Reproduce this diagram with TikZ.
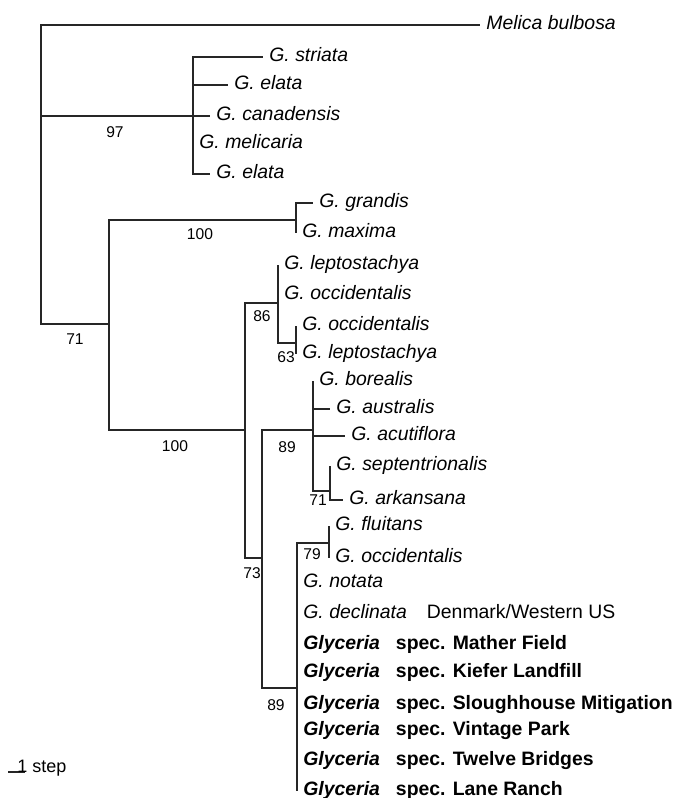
\documentclass[tikz,border=0pt]{standalone}
\usepackage{fontspec}
\setmainfont{Liberation Sans}
\usepackage{tikz}

\begin{document}
\begin{tikzpicture}[x=0.5pt,y=-0.5pt,
    branch/.style={line width=0.6pt,black!85},
    taxon/.style={anchor=west,inner xsep=3pt,inner ysep=0pt,text height=7pt,text depth=3pt,
        font=\fontsize{9.7pt}{11pt}\selectfont\itshape},
    boot/.style={inner sep=0pt,font=\fontsize{7.8pt}{9pt}\selectfont}]
    \useasboundingbox (0,0) rectangle (677,798);

    % Internal nodes of the tree
    \coordinate (root) at (41,116);
    \coordinate (n97) at (193,116);
    \coordinate (n71) at (109,324);
    \coordinate (n100a) at (296,220);
    \coordinate (n100b) at (245,430);
    \coordinate (n86) at (278,303);
    \coordinate (n63) at (296,343);
    \coordinate (n73) at (262,558);
    \coordinate (n89a) at (313,430);
    \coordinate (n71b) at (330,491);
    \coordinate (n89b) at (297,688);
    \coordinate (n79) at (329,543);

    % Taxa
    \node[taxon] (melica) at (480,25) {Melica bulbosa};
    \node[taxon] (striata) at (263,57) {G. striata};
    \node[taxon] (elataA) at (228,85) {G. elata};
    \node[taxon] (canadensis) at (210,116) {G. canadensis};
    \node[taxon] (melicaria) at (193,144) {G. melicaria};
    \node[taxon] (elataB) at (210,174) {G. elata};
    \node[taxon] (grandis) at (313,203) {G. grandis};
    \node[taxon] (maxima) at (296,233) {G. maxima};
    \node[taxon] (leptoA) at (278,265) {G. leptostachya};
    \node[taxon] (occA) at (278,295) {G. occidentalis};
    \node[taxon] (occB) at (296,326) {G. occidentalis};
    \node[taxon] (leptoB) at (296,354) {G. leptostachya};
    \node[taxon] (borealis) at (313,381) {G. borealis};
    \node[taxon] (australis) at (330,409) {G. australis};
    \node[taxon] (acutiflora) at (345,436) {G. acutiflora};
    \node[taxon] (septentr) at (330,466) {G. septentrionalis};
    \node[taxon] (arkansana) at (343,500) {G. arkansana};
    \node[taxon] (fluitans) at (329,526) {G. fluitans};
    \node[taxon] (occC) at (329,558) {G. occidentalis};
    \node[taxon] (notata) at (297,583) {G. notata};
    \node[taxon] (declinata) at (297,614) {G. declinata\hspace{10pt}\upshape Denmark/Western US};
    \node[taxon] (mather) at (297,645) {\bfseries Glyceria\hspace{8pt}\upshape spec. Mather Field};
    \node[taxon] (kiefer) at (297,673) {\bfseries Glyceria\hspace{8pt}\upshape spec. Kiefer Landfill};
    \node[taxon] (slough) at (297,705) {\bfseries Glyceria\hspace{8pt}\upshape spec. Sloughhouse Mitigation};
    \node[taxon] (vintage) at (297,731) {\bfseries Glyceria\hspace{8pt}\upshape spec. Vintage Park};
    \node[taxon] (twelve) at (297,761) {\bfseries Glyceria\hspace{8pt}\upshape spec. Twelve Bridges};
    \node[taxon] (lane) at (297,791) {\bfseries Glyceria\hspace{8pt}\upshape spec. Lane Ranch};

    % Branches
    \draw[branch] (root) |- (melica.west);
    \draw[branch] (root) |- (n97);
    \draw[branch] (root) |- (n71);
    \foreach \t in {striata,elataA,canadensis,melicaria,elataB}
        \draw[branch] (n97) |- (\t.west);
    \draw[branch] (n71) |- (n100a);
    \draw[branch] (n71) |- (n100b);
    \draw[branch] (n100a) |- (grandis.west);
    \draw[branch] (n100a) |- (maxima.west);
    \draw[branch] (n100b) |- (n86);
    \draw[branch] (n100b) |- (n73);
    \draw[branch] (n86) |- (leptoA.west);
    \draw[branch] (n86) |- (occA.west);
    \draw[branch] (n86) |- (n63);
    \draw[branch] (n63) |- (occB.west);
    \draw[branch] (n63) |- (leptoB.west);
    \draw[branch] (n73) |- (n89a);
    \draw[branch] (n73) |- (n89b);
    \foreach \t in {borealis,australis,acutiflora}
        \draw[branch] (n89a) |- (\t.west);
    \draw[branch] (n89a) |- (n71b);
    \draw[branch] (n71b) |- (septentr.west);
    \draw[branch] (n71b) |- (arkansana.west);
    \draw[branch] (n89b) |- (n79);
    \draw[branch] (n79) |- (fluitans.west);
    \draw[branch] (n79) |- (occC.west);
    \foreach \t in {notata,declinata,mather,kiefer,slough,vintage,twelve,lane}
        \draw[branch] (n89b) |- (\t.west);

    % Bootstrap values
    \node[boot] (b97) at (115,132) {97};
    \node[boot] (b71) at (75,339) {71};
    \node[boot] (b100a) at (200,234) {100};
    \node[boot] (b100b) at (175,446) {100};
    \node[boot] (b86) at (262,316) {86};
    \node[boot] (b63) at (286,357) {63};
    \node[boot] (b89a) at (287,447) {89};
    \node[boot] (b71b) at (318,500) {71};
    \node[boot] (b73) at (252,573) {73};
    \node[boot] (b79) at (312,554) {79};
    \node[boot] (b89b) at (276,705) {89};

    % Scale bar
    \coordinate (sbl) at (8,772);
    \coordinate (sbr) at (25,772);
    \draw[branch] (sbl) -- (sbr);
    \node[anchor=base west,inner sep=0pt,font=\fontsize{9pt}{10pt}\selectfont] (scale) at (17,772) {1 step};
\end{tikzpicture}
\end{document}
